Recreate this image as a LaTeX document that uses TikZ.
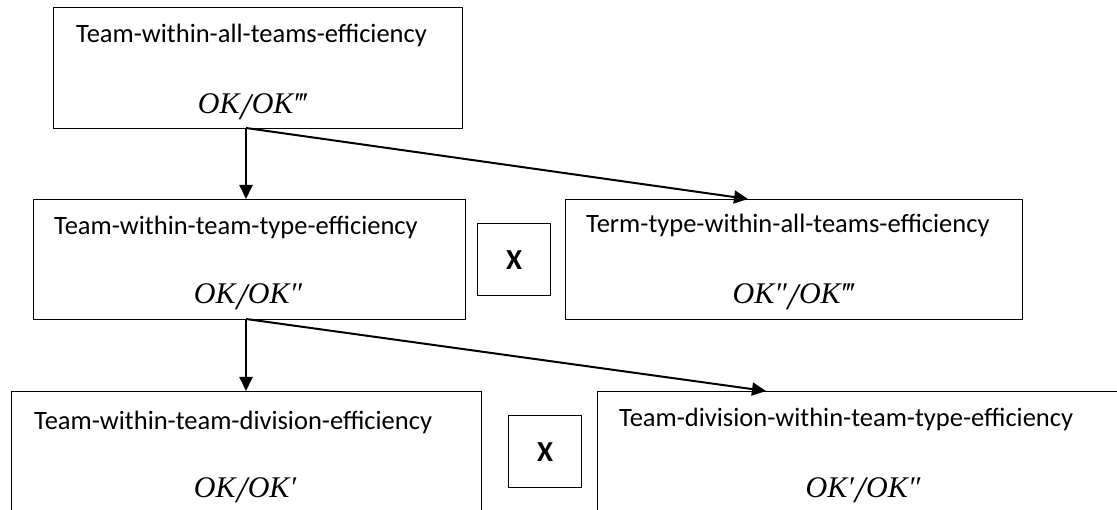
\documentclass[tikz,border=0pt]{standalone}
\usepackage{fontspec}
\setmainfont{Carlito}
\newfontfamily\tms{Liberation Serif}
\usetikzlibrary{arrows.meta}
\newcommand{\bigsl}{\raisebox{-0.18em}{\scalebox{1.25}{/}}}
\newcommand{\okf}[2]{{\tms\itshape OK#1\hspace{0.03em}\bigsl\hspace{0.03em}OK#2}}
\begin{document}
\begin{tikzpicture}[x=1pt,y=-1pt,
  box/.style={draw=black,line width=1.4pt,inner sep=0pt,anchor=north west},
  lbl/.style={anchor=base west,inner sep=0pt,font=\fontsize{26.5pt}{28pt}\selectfont},
  frm/.style={anchor=base,inner sep=0pt,font=\fontsize{30pt}{32pt}\selectfont},
  xlbl/.style={inner sep=0pt,font=\fontsize{29pt}{30pt}\selectfont\bfseries},
  arr/.style={line width=2pt,-{Triangle[length=14pt,width=13pt]}}]
\useasboundingbox (0,0) rectangle (1117,510);
\clip (0,0) rectangle (1117,510);
% boxes
\node[box,minimum width=409pt,minimum height=121pt] (top) at (53,7) {};
\node[box,minimum width=432pt,minimum height=120pt] (b2) at (33,199) {};
\node[box,minimum width=73pt,minimum height=72pt] (x1) at (477,223) {};
\node[box,minimum width=457pt,minimum height=120pt] (b3) at (565,199) {};
\node[box,minimum width=470pt,minimum height=140pt] (b4) at (11,391) {};
\node[box,minimum width=73pt,minimum height=72pt] (x2) at (508,415) {};
\node[box,minimum width=540pt,minimum height=140pt] (b5) at (597,391) {};
% labels
\node[lbl] (t1) at (76,43) {Team-within-all-teams-efficiency};
\node[frm] (f1) at (252,114) {\okf{}{‴}};
\node[lbl] (t2) at (54,235) {Team-within-team-type-efficiency};
\node[frm] (f2) at (248,304) {\okf{}{″}};
\node[xlbl] (xl1) at (x1.center) {X};
\node[lbl] (t3) at (586,233) {Term-type-within-all-teams-efficiency};
\node[frm] (f3) at (793,304) {\okf{″}{‴}};
\node[lbl] (t4) at (34,430) {Team-within-team-division-efficiency};
\node[frm] (f4) at (245,497) {\okf{}{′}};
\node[xlbl] (xl2) at (x2.center) {X};
\node[lbl] (t5) at (619,427) {Team-division-within-team-type-efficiency};
\node[frm] (f5) at (863,497) {\okf{′}{″}};
% connectors
\coordinate (s1) at (246,128);
\coordinate (e1) at (748,199);
\coordinate (s2) at (246,319);
\coordinate (e2) at (766,391);
\draw[arr] (s1) -- (s1 |- b2.north);
\draw[arr] (s1) -- (e1);
\draw[arr] (s2) -- (s2 |- b4.north);
\draw[arr] (s2) -- (e2);
\end{tikzpicture}
\end{document}
